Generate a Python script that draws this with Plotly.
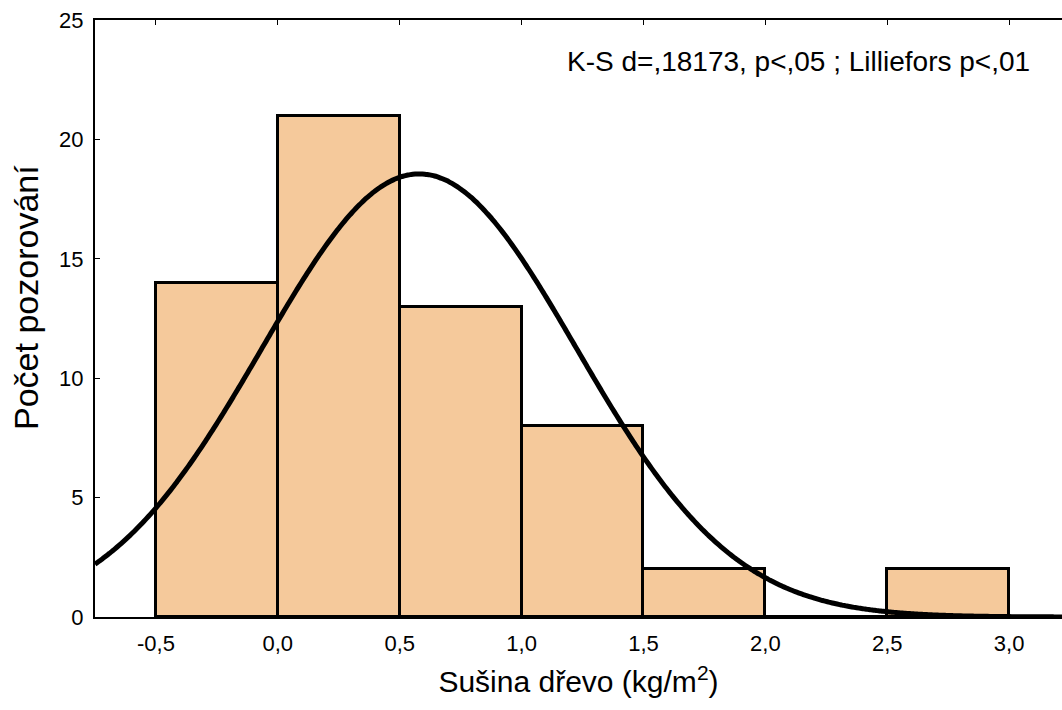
import numpy as np
import plotly.graph_objects as go

# Histogram of dry wood mass per bin (bin width 0.5 kg/m2)
bin_left = [-0.5, 0.0, 0.5, 1.0, 1.5, 2.0, 2.5]
counts = [14, 21, 13, 8, 2, 0, 2]
bin_width = 0.5

# Fitted normal curve parameters
fit_mean = 0.58
fit_sd = 0.645
n_obs = sum(counts)

x_ticks = [-0.5, 0.0, 0.5, 1.0, 1.5, 2.0, 2.5, 3.0]
x_tick_text = ["-0,5", "0,0", "0,5", "1,0", "1,5", "2,0", "2,5", "3,0"]
y_ticks = [0, 5, 10, 15, 20, 25]

centers = [b + bin_width / 2 for b in bin_left]
xs = np.linspace(-0.75, 3.22, 400)
ys = n_obs * bin_width / (fit_sd * np.sqrt(2 * np.pi)) * np.exp(-0.5 * ((xs - fit_mean) / fit_sd) ** 2)

font = "Liberation Sans, Arial, sans-serif"

fig = go.Figure()
fig.add_trace(go.Bar(
    x=centers, y=counts, width=bin_width,
    marker=dict(color="#F5C99B", line=dict(color="black", width=3)),
    showlegend=False, hoverinfo="skip",
))
fig.add_trace(go.Scatter(
    x=xs, y=ys, mode="lines",
    line=dict(color="black", width=5, shape="spline"),
    showlegend=False, hoverinfo="skip",
))

fig.add_annotation(
    x=1, xref="paper", xanchor="right", xshift=-30,
    y=1, yref="paper", yanchor="top", yshift=-24,
    text="K-S d=,18173, p<,05 ; Lilliefors p<,01",
    showarrow=False, font=dict(family=font, size=28, color="black"),
)

# Vertical axis title
fig.add_annotation(
    x=-0.0714, xref="paper", xanchor="center",
    y=0.536, yref="paper", yanchor="middle",
    text="Počet pozorování", textangle=-90,
    showarrow=False, font=dict(family=font, size=34, color="black"),
)

fig.update_layout(
    width=1062, height=710,
    margin=dict(l=95, r=0, t=20, b=93),
    paper_bgcolor="white", plot_bgcolor="white",
    font=dict(family=font, color="black"),
    bargap=0,
)
fig.update_xaxes(
    range=[-0.75, 3.217], tickvals=x_ticks, ticktext=x_tick_text,
    tickfont=dict(size=22), showgrid=False, zeroline=False,
    showline=True, linecolor="black", linewidth=2,
    mirror="ticks", ticks="inside", ticklen=5, tickcolor="black",
    ticklabelstandoff=6,
    title=dict(text="Sušina dřevo (kg/m<sup>2</sup>)", font=dict(size=30), standoff=16),
)
fig.update_yaxes(
    range=[0, 25], tickvals=y_ticks,
    tickfont=dict(size=22), showgrid=False, zeroline=False,
    showline=True, linecolor="black", linewidth=2,
    ticks="inside", ticklen=5, tickcolor="black",
    ticklabelstandoff=5,
)

fig.write_html("out.html")
